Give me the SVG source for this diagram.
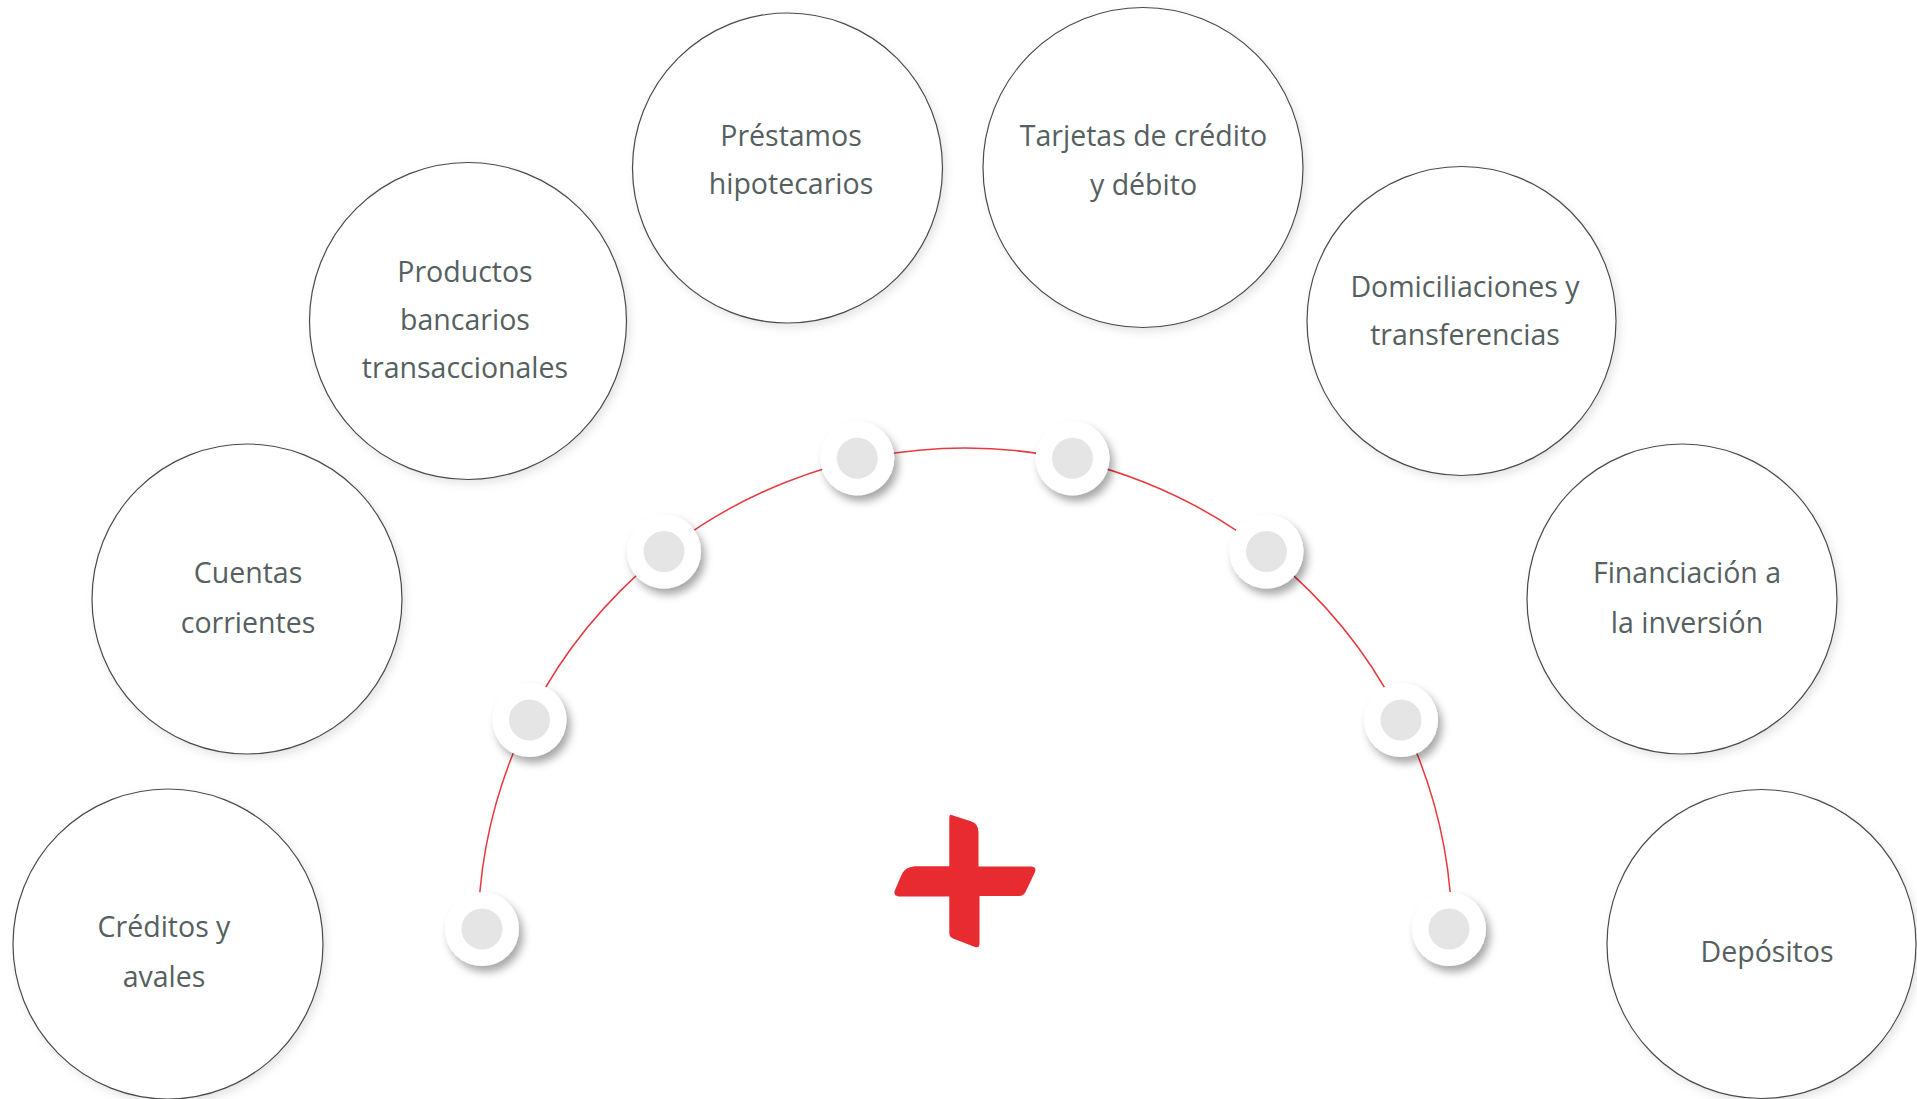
<svg xmlns="http://www.w3.org/2000/svg" width="1917" height="1099" viewBox="0 0 1917 1099">
<defs>
<filter id="bigShadow" x="-10%" y="-10%" width="125%" height="125%">
<feDropShadow dx="3" dy="4" stdDeviation="4" flood-color="#000" flood-opacity="0.10"/>
</filter>
<filter id="dotShadow" x="-40%" y="-40%" width="190%" height="190%">
<feDropShadow dx="4" dy="6" stdDeviation="4" flood-color="#000" flood-opacity="0.35"/>
</filter>
<style>
.big{fill:#ffffff;stroke:#4a4a4a;stroke-width:1.2;filter:url(#bigShadow)}
.lbl{font-family:"Open Sans","Noto Sans",sans-serif;font-size:28.5px;fill:#566060;text-anchor:middle}
.outer{fill:#ffffff;filter:url(#dotShadow)}
.inner{fill:#e5e5e5}
.arc{fill:none;stroke:#e8393f;stroke-width:1.5}
</style>
</defs>
<rect width="1917" height="1099" fill="#ffffff"/>

<g id="connectors">
<path class="arc" d="M478,935 A487,487 0 0 1 1452,935"/>
</g>

<g id="dots">
<g id="dot1"><circle class="outer" cx="482" cy="929" r="37"/><circle class="inner" cx="482" cy="929" r="20.5"/></g>
<g id="dot2"><circle class="outer" cx="529.5" cy="720" r="37"/><circle class="inner" cx="529.5" cy="720" r="20.5"/></g>
<g id="dot3"><circle class="outer" cx="664" cy="551.5" r="37"/><circle class="inner" cx="664" cy="551.5" r="20.5"/></g>
<g id="dot4"><circle class="outer" cx="857.3" cy="458.3" r="37"/><circle class="inner" cx="857.3" cy="458.3" r="20.5"/></g>
<g id="dot5"><circle class="outer" cx="1072.5" cy="458.3" r="37"/><circle class="inner" cx="1072.5" cy="458.3" r="20.5"/></g>
<g id="dot6"><circle class="outer" cx="1266.5" cy="551.5" r="37"/><circle class="inner" cx="1266.5" cy="551.5" r="20.5"/></g>
<g id="dot7"><circle class="outer" cx="1401" cy="720" r="37"/><circle class="inner" cx="1401" cy="720" r="20.5"/></g>
<g id="dot8"><circle class="outer" cx="1449" cy="929" r="37"/><circle class="inner" cx="1449" cy="929" r="20.5"/></g>
</g>

<g id="plus">
<path fill="#e82a31" d="M951.5,815 L971.5,821.5 Q978.5,824 978.5,832 L978.5,866.5 L1031,866.5 Q1037,867 1035,872 L1025.5,892 Q1023.5,896 1019,896 L979.5,896 L979.5,943 Q979.5,948.5 975,947 L953,938.5 Q949.3,937 949.3,933 L949.3,896.5 L899,896.5 Q893,896 894.8,890.5 L901,876 Q904,867 915,866.2 L949.3,866.2 L949.3,819 Q949.3,814 951.5,815 Z"/>
</g>

<g id="creditos">
<circle class="big" cx="168" cy="944" r="155"/>
<text class="lbl" x="164" y="937">Créditos y</text>
<text class="lbl" x="164" y="987">avales</text>
</g>

<g id="cuentas">
<circle class="big" cx="247" cy="599" r="155"/>
<text class="lbl" x="248" y="583">Cuentas</text>
<text class="lbl" x="248" y="633">corrientes</text>
</g>

<g id="productos">
<circle class="big" cx="468" cy="321" r="158.5"/>
<text class="lbl" x="465" y="282">Productos</text>
<text class="lbl" x="465" y="330">bancarios</text>
<text class="lbl" x="465" y="378">transaccionales</text>
</g>

<g id="prestamos">
<circle class="big" cx="787.5" cy="168" r="155"/>
<text class="lbl" x="791" y="146">Préstamos</text>
<text class="lbl" x="791" y="194">hipotecarios</text>
</g>

<g id="tarjetas">
<circle class="big" cx="1143" cy="167.5" r="160"/>
<text class="lbl" x="1143.5" y="146">Tarjetas de crédito</text>
<text class="lbl" x="1143.5" y="195">y débito</text>
</g>

<g id="domiciliaciones">
<circle class="big" cx="1461.5" cy="321" r="154.5"/>
<text class="lbl" x="1465" y="297">Domiciliaciones y</text>
<text class="lbl" x="1465" y="345">transferencias</text>
</g>

<g id="financiacion">
<circle class="big" cx="1682" cy="599" r="155"/>
<text class="lbl" x="1687" y="583">Financiación a</text>
<text class="lbl" x="1687" y="633">la inversión</text>
</g>

<g id="depositos">
<circle class="big" cx="1761.5" cy="944" r="154.5"/>
<text class="lbl" x="1767" y="962">Depósitos</text>
</g>
</svg>
